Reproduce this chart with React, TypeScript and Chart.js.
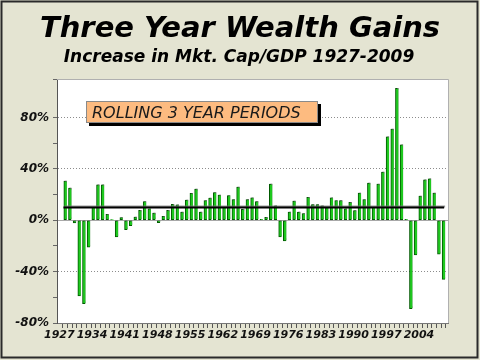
import React, { useEffect, useRef } from "react";
import { Chart, registerables } from "chart.js";

Chart.register(...registerables);

// ---- data ----
const firstYear = 1927;
const gains: number[] = [
  30.5, 25, -2, -59, -65, -21, 10, 27.5, 27.5, 4.7,
  0.5, -13, 2, -7.3, -4.2, 2.4, 7.8, 14.6, 9, 5.5,
  -1.8, 3, 7.8, 12.5, 12, 6.3, 15.7, 21, 24.2, 6.3,
  15.3, 17.2, 21.6, 19.6, 10, 19.3, 16.1, 25.8, 8.5, 16.1,
  17.4, 14.5, 0.8, 2.2, 28.2, 11.3, -13, -16, 6.3, 14.9,
  6.3, 5.3, 17.9, 12.2, 12.2, 11.2, 9.8, 17.5, 15.4, 15.4,
  8.9, 13.9, 7.6, 21.2, 16.2, 28.9, 10, 28.2, 37.6, 65,
  71, 102.7, 58.8, 0.8, -68.8, -26.9, 18.8, 31.4, 32.2, 21.2,
  -26.4, -46,
];
const years: number[] = gains.map((_, i) => firstYear + i);
const labelYears: number[] = [1927, 1934, 1941, 1948, 1955, 1962, 1969, 1976, 1983, 1990, 1997, 2004];
const yLabelValues: number[] = [-80, -40, 0, 40, 80];
const dashedGridValues: number[] = [-40, 40, 80];
const meanGain = 10;
const meanSpan: number[] = [1926.6, 2008.1];

const titleText = "Three Year Wealth Gains";
const subtitleText = "Increase in Mkt. Cap/GDP 1927-2009";
const boxText = "ROLLING 3 YEAR PERIODS";

const FONT = "'DejaVu Sans', Verdana, sans-serif";

const backgroundPlugin = {
  id: "bgPlugin",
  beforeDraw(chart: any) {
    const { ctx, chartArea } = chart;
    ctx.save();
    ctx.fillStyle = "#e4e4d2";
    ctx.fillRect(0, 0, chart.width, chart.height);
    ctx.fillStyle = "#ffffff";
    ctx.fillRect(chartArea.left, chartArea.top, chartArea.right - chartArea.left, chartArea.bottom - chartArea.top);
    ctx.strokeStyle = "#2a2a2a";
    ctx.lineWidth = 2;
    ctx.strokeRect(1.5, 1.5, chart.width - 4, chart.height - 4);
    ctx.restore();
  },
  beforeDatasetsDraw(chart: any) {
    const { ctx, chartArea } = chart;
    ctx.save();
    ctx.strokeStyle = "#b0b0b0";
    ctx.lineWidth = 1;
    ctx.beginPath();
    ctx.moveTo(chartArea.left, chartArea.top + 0.5);
    ctx.lineTo(chartArea.right + 0.5, chartArea.top + 0.5);
    ctx.lineTo(chartArea.right + 0.5, chartArea.bottom);
    ctx.stroke();
    ctx.restore();
  },
};

const shadowPlugin = {
  id: "shadowPlugin",
  beforeDatasetDraw(chart: any) {
    const ctx = chart.ctx;
    ctx.save();
    ctx.shadowColor = "rgba(120,120,120,0.75)";
    ctx.shadowOffsetX = 1;
    ctx.shadowOffsetY = -1;
    ctx.shadowBlur = 0;
  },
  afterDatasetDraw(chart: any) {
    chart.ctx.restore();
  },
};

const textPlugin = {
  id: "textPlugin",
  afterDraw(chart: any) {
    const { ctx } = chart;
    ctx.save();
    ctx.fillStyle = "#000";
    ctx.textAlign = "center";
    ctx.textBaseline = "alphabetic";
    ctx.font = `italic bold 29px ${FONT}`;
    ctx.fillText(titleText, 240, 37);
    ctx.font = `italic bold 17px ${FONT}`;
    ctx.fillText(subtitleText, 239, 62);

    // label box
    const bx = 86, by = 101, bw = 232, bh = 22;
    ctx.fillStyle = "#000";
    ctx.fillRect(bx + 3, by + 3, bw, bh);
    ctx.fillStyle = "#fdbb80";
    ctx.fillRect(bx, by, bw, bh);
    ctx.strokeStyle = "#8a8a8a";
    ctx.lineWidth = 1;
    ctx.strokeRect(bx + 0.5, by + 0.5, bw - 1, bh - 1);
    ctx.fillStyle = "#1a1a1a";
    ctx.font = `italic 16px ${FONT}`;
    ctx.textAlign = "left";
    ctx.fillText(boxText, bx + 6, by + 17);
    ctx.restore();
  },
};

export default function App() {
  const ref = useRef<HTMLCanvasElement | null>(null);

  useEffect(() => {
    const canvas = ref.current;
    if (!canvas) return;
    const chart = new Chart(canvas, {
      type: "bar",
      data: {
        datasets: [
          {
            type: "line",
            label: "Mean",
            data: meanSpan.map((x) => ({ x, y: meanGain })),
            borderColor: "#000000",
            borderWidth: 2,
            pointRadius: 0,
            order: 0,
          } as any,
          {
            type: "bar",
            label: "3 Year Gain",
            data: years.map((x, i) => ({ x, y: gains[i] })),
            backgroundColor: "#1ec81e",
            borderColor: "#005a00",
            borderWidth: { left: 1, top: 1, bottom: 1, right: 0 },
            borderSkipped: false,
            barThickness: 3,
            order: 1,
          } as any,
        ],
      },
      options: {
        responsive: false,
        devicePixelRatio: 1,
        animation: false,
        events: [],
        layout: { padding: { top: 79, right: 32, left: 0, bottom: 0 } },
        plugins: {
          legend: { display: false },
          tooltip: { enabled: false },
          title: { display: false },
        },
        scales: {
          x: {
            type: "linear",
            min: 1925.73,
            max: 2008.42,
            afterBuildTicks: (scale: any) => {
              scale.ticks = years.map((v) => ({ value: v }));
            },
            afterFit: (scale: any) => {
              scale.height = 37;
            },
            grid: {
              drawOnChartArea: false,
              drawTicks: true,
              tickLength: 5,
              tickColor: "#555555",
            },
            border: { display: true, color: "#777777", width: 1 },
            ticks: {
              autoSkip: false,
              maxRotation: 0,
              minRotation: 0,
              labelOffset: -6,
              padding: 1,
              color: "#111111",
              font: { family: FONT, size: 11, weight: "bold", style: "italic" },
              callback: (v: any) => (labelYears.includes(Number(v)) ? String(v) : ""),
            },
          },
          y: {
            type: "linear",
            min: -80,
            max: 110,
            afterFit: (scale: any) => {
              scale.width = 57;
            },
            ticks: {
              stepSize: 20,
              padding: 4,
              color: "#111111",
              font: { family: FONT, size: 12, weight: "bold", style: "italic" },
              callback: (v: any) => (yLabelValues.includes(Number(v)) ? `${v}%` : ""),
            },
            grid: {
              drawTicks: true,
              tickLength: 4,
              tickColor: "#666666",
              color: (ctx: any) => {
                const v = ctx.tick ? ctx.tick.value : null;
                if (v === 0) return "#a8a8a8";
                if (dashedGridValues.includes(v)) return "#8c8c8c";
                return "rgba(0,0,0,0)";
              },
              lineWidth: 1,
            },
            border: {
              display: true,
              color: "#555555",
              width: 1,
              dash: (ctx: any) => {
                const v = ctx.tick ? ctx.tick.value : null;
                return dashedGridValues.includes(v) ? [1, 2] : [];
              },
            },
          },
        },
      } as any,
      plugins: [backgroundPlugin, shadowPlugin, textPlugin],
    });
    return () => chart.destroy();
  }, []);

  return (
    <div style={{ position: "absolute", left: 0, top: 0, width: 480, height: 360 }}>
      <canvas ref={ref} width={480} height={360} style={{ display: "block" }} />
    </div>
  );
}
